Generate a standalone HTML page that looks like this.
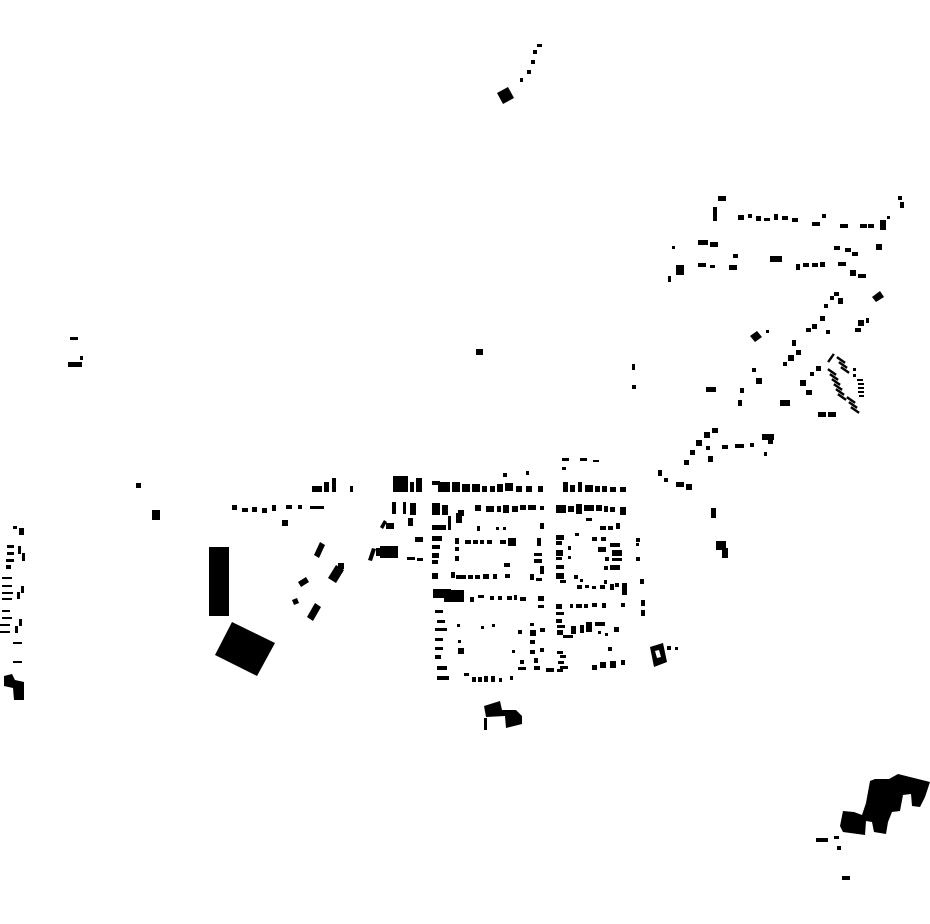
<!DOCTYPE html>
<html><head><meta charset="utf-8"><style>html,body{margin:0;padding:0;background:#fff}svg{display:block}</style></head><body>
<svg width="930" height="924" viewBox="0 0 930 924" xmlns="http://www.w3.org/2000/svg" fill="#000">
<!-- north -->
<polygon points="497,93 508,87 514,98 503,104"/>
<rect x="520" y="78" width="3" height="4"/><rect x="527" y="70" width="4" height="4"/><rect x="531" y="60" width="4" height="4"/><rect x="533" y="50" width="4" height="4"/><rect x="537" y="44" width="5" height="3"/>
<!-- west -->
<rect x="70" y="337" width="8" height="3"/><rect x="68" y="362" width="14" height="5"/><rect x="80" y="356" width="3" height="4"/>
<rect x="476" y="349" width="7" height="6"/><rect x="632" y="364" width="3" height="6"/><rect x="632" y="385" width="4" height="4"/>
<rect x="136" y="483" width="5" height="5"/><rect x="152" y="510" width="8" height="10"/>
<rect x="209" y="547" width="20" height="69"/>
<polygon points="215,655 232,622 275,643 257,676"/>
<!-- far left column -->
<rect x="13" y="526" width="4" height="3"/><rect x="19" y="528" width="5" height="7"/>
<rect x="7" y="545" width="7" height="3"/><rect x="7" y="552" width="7" height="3"/><rect x="6" y="559" width="8" height="3"/><rect x="6" y="565" width="5" height="4"/>
<rect x="18" y="546" width="3" height="8"/><rect x="22" y="553" width="3" height="8"/>
<rect x="2" y="577" width="10" height="2"/><rect x="2" y="585" width="10" height="2"/><rect x="2" y="592" width="11" height="2"/><rect x="2" y="598" width="10" height="2"/>
<rect x="17" y="592" width="3" height="7"/><rect x="21" y="586" width="3" height="7"/>
<rect x="2" y="610" width="8" height="2"/><rect x="2" y="617" width="10" height="2"/><rect x="0" y="624" width="10" height="2"/><rect x="0" y="631" width="10" height="2"/>
<rect x="15" y="626" width="3" height="7"/><rect x="19" y="619" width="3" height="7"/>
<rect x="13" y="642" width="9" height="2"/><rect x="13" y="661" width="9" height="2"/>
<polygon points="4,676 12,674 15,680 24,682 24,700 14,700 13,688 4,686"/>
<!-- west row near town -->
<rect x="232" y="505" width="5" height="5"/><rect x="242" y="508" width="6" height="4"/><rect x="252" y="507" width="5" height="5"/><rect x="262" y="508" width="5" height="5"/><rect x="272" y="505" width="4" height="6"/><rect x="282" y="520" width="6" height="6"/><rect x="286" y="505" width="6" height="4"/><rect x="298" y="505" width="4" height="4"/><rect x="310" y="506" width="14" height="3"/>
<rect x="312" y="486" width="10" height="6"/><rect x="324" y="482" width="5" height="10"/><rect x="332" y="478" width="4" height="14"/><rect x="350" y="486" width="3" height="6"/>
<polygon points="314,555 320,542 325,545 319,558"/><polygon points="328,578 336,565 344,570 336,583"/><rect x="338" y="563" width="6" height="6"/><polygon points="298,582 306,577 309,582 301,587"/><polygon points="292,600 297,598 299,603 294,605"/><polygon points="307,617 315,603 321,607 313,621"/>
<!-- town -->
<rect x="393" y="476" width="15" height="16"/><rect x="410" y="482" width="4" height="10"/><rect x="416" y="478" width="6" height="14"/>
<rect x="432" y="481" width="8" height="4"/><rect x="438" y="482" width="12" height="10"/><rect x="452" y="482" width="8" height="10"/><rect x="462" y="484" width="8" height="8"/><rect x="472" y="484" width="8" height="8"/><rect x="482" y="486" width="5" height="6"/><rect x="490" y="486" width="5" height="6"/><rect x="497" y="484" width="6" height="8"/><rect x="505" y="483" width="8" height="8"/><rect x="516" y="486" width="6" height="6"/><rect x="526" y="486" width="6" height="6"/><rect x="538" y="486" width="5" height="6"/><rect x="503" y="473" width="4" height="4"/><rect x="526" y="471" width="3" height="4"/>
<rect x="562" y="458" width="7" height="3"/><rect x="580" y="458" width="7" height="3"/><rect x="593" y="460" width="6" height="2"/><rect x="562" y="467" width="4" height="3"/>
<rect x="563" y="482" width="5" height="10"/><rect x="570" y="485" width="5" height="7"/><rect x="578" y="482" width="4" height="10"/><rect x="585" y="485" width="8" height="7"/><rect x="595" y="486" width="5" height="6"/><rect x="602" y="486" width="5" height="6"/><rect x="610" y="487" width="6" height="5"/><rect x="620" y="487" width="6" height="5"/>
<rect x="392" y="502" width="4" height="12"/><rect x="403" y="502" width="3" height="12"/><rect x="410" y="503" width="6" height="12"/><rect x="432" y="503" width="8" height="12"/><rect x="442" y="505" width="6" height="10"/><rect x="458" y="510" width="6" height="6"/>
<rect x="475" y="505" width="6" height="6"/><rect x="486" y="506" width="8" height="6"/><rect x="497" y="506" width="4" height="6"/><rect x="503" y="505" width="6" height="8"/><rect x="512" y="506" width="6" height="6"/><rect x="520" y="505" width="6" height="5"/><rect x="528" y="505" width="8" height="5"/><rect x="540" y="506" width="4" height="4"/>
<rect x="556" y="505" width="10" height="8"/><rect x="568" y="506" width="6" height="6"/><rect x="576" y="504" width="6" height="10"/><rect x="584" y="505" width="10" height="6"/><rect x="596" y="505" width="6" height="6"/><rect x="604" y="506" width="4" height="6"/><rect x="610" y="507" width="5" height="5"/><rect x="620" y="507" width="6" height="8"/>
<polygon points="380,527 384,520 387,522 383,529"/><rect x="386" y="523" width="8" height="6"/><rect x="408" y="518" width="5" height="8"/><rect x="432" y="525" width="14" height="5"/><rect x="448" y="516" width="3" height="14"/><rect x="456" y="513" width="6" height="10"/><rect x="477" y="526" width="3" height="5"/><rect x="496" y="527" width="3" height="3"/><rect x="503" y="527" width="3" height="3"/><rect x="540" y="523" width="4" height="6"/><rect x="586" y="518" width="6" height="3"/><rect x="600" y="526" width="6" height="4"/><rect x="608" y="526" width="5" height="4"/><rect x="616" y="523" width="4" height="6"/>
<polygon points="368,560 372,548 376,549 372,561"/><rect x="380" y="546" width="18" height="12"/><rect x="376" y="548" width="6" height="8"/><rect x="407" y="557" width="8" height="3"/><rect x="417" y="558" width="6" height="3"/>
<rect x="415" y="537" width="8" height="5"/><rect x="432" y="536" width="10" height="5"/><rect x="432" y="545" width="8" height="4"/><rect x="432" y="553" width="7" height="5"/><rect x="432" y="560" width="6" height="4"/><rect x="432" y="573" width="6" height="6"/><rect x="455" y="538" width="4" height="6"/><rect x="455" y="547" width="4" height="4"/><rect x="455" y="556" width="4" height="5"/>
<rect x="465" y="540" width="6" height="4"/><rect x="473" y="540" width="5" height="4"/><rect x="480" y="540" width="4" height="4"/><rect x="487" y="540" width="5" height="4"/><rect x="500" y="540" width="6" height="4"/><rect x="508" y="538" width="8" height="8"/><rect x="537" y="538" width="4" height="8"/><rect x="534" y="553" width="8" height="3"/><rect x="534" y="559" width="8" height="4"/><rect x="504" y="563" width="6" height="4"/><rect x="540" y="566" width="4" height="8"/>
<rect x="451" y="572" width="4" height="6"/><rect x="456" y="575" width="10" height="4"/><rect x="468" y="575" width="5" height="4"/><rect x="475" y="575" width="5" height="4"/><rect x="483" y="574" width="6" height="5"/><rect x="493" y="574" width="4" height="5"/><rect x="505" y="574" width="5" height="4"/><rect x="530" y="574" width="4" height="6"/><rect x="536" y="578" width="6" height="3"/>
<rect x="556" y="535" width="8" height="5"/><rect x="556" y="541" width="6" height="4"/><rect x="556" y="550" width="7" height="6"/><rect x="556" y="557" width="6" height="3"/><rect x="556" y="565" width="8" height="4"/><rect x="556" y="573" width="8" height="6"/><rect x="560" y="580" width="6" height="3"/><rect x="568" y="546" width="3" height="4"/><rect x="568" y="556" width="3" height="3"/>
<rect x="575" y="533" width="4" height="3"/><rect x="592" y="537" width="5" height="4"/><rect x="601" y="537" width="5" height="4"/><rect x="598" y="547" width="8" height="5"/><rect x="610" y="543" width="10" height="4"/><rect x="612" y="550" width="10" height="6"/><rect x="605" y="557" width="4" height="4"/><rect x="612" y="558" width="10" height="3"/><rect x="604" y="566" width="4" height="4"/><rect x="610" y="565" width="10" height="5"/><rect x="636" y="538" width="4" height="4"/><rect x="636" y="543" width="3" height="3"/><rect x="636" y="557" width="4" height="4"/><rect x="640" y="579" width="4" height="5"/>
<rect x="574" y="575" width="4" height="4"/><rect x="580" y="579" width="3" height="3"/><rect x="577" y="585" width="5" height="4"/><rect x="585" y="585" width="4" height="3"/><rect x="592" y="586" width="4" height="3"/><rect x="600" y="585" width="5" height="4"/><rect x="610" y="584" width="4" height="6"/><rect x="615" y="583" width="4" height="4"/><rect x="622" y="583" width="5" height="12"/><rect x="604" y="580" width="3" height="4"/>
<rect x="433" y="589" width="18" height="9"/><rect x="444" y="590" width="20" height="12"/><rect x="470" y="597" width="4" height="5"/><rect x="478" y="595" width="6" height="3"/><rect x="490" y="596" width="4" height="4"/><rect x="498" y="596" width="4" height="4"/><rect x="507" y="596" width="5" height="4"/><rect x="514" y="595" width="3" height="5"/><rect x="520" y="597" width="6" height="4"/><rect x="538" y="596" width="6" height="5"/><rect x="538" y="605" width="6" height="3"/>
<rect x="556" y="604" width="6" height="5"/><rect x="556" y="612" width="8" height="3"/><rect x="556" y="619" width="6" height="4"/><rect x="570" y="604" width="3" height="4"/><rect x="576" y="604" width="6" height="4"/><rect x="584" y="604" width="4" height="4"/><rect x="592" y="603" width="5" height="4"/><rect x="602" y="603" width="4" height="5"/><rect x="621" y="603" width="4" height="4"/><rect x="641" y="600" width="4" height="6"/><rect x="641" y="610" width="4" height="6"/>
<rect x="435" y="610" width="8" height="3"/><rect x="437" y="620" width="8" height="3"/><rect x="435" y="628" width="12" height="3"/><rect x="435" y="638" width="8" height="3"/><rect x="435" y="647" width="8" height="3"/><rect x="435" y="655" width="6" height="4"/><rect x="437" y="666" width="10" height="4"/><rect x="457" y="624" width="3" height="3"/><rect x="458" y="640" width="3" height="3"/><rect x="458" y="648" width="6" height="6"/><rect x="481" y="626" width="3" height="3"/><rect x="492" y="624" width="3" height="3"/>
<rect x="530" y="623" width="4" height="3"/><rect x="530" y="630" width="6" height="6"/><rect x="530" y="640" width="5" height="4"/><rect x="530" y="650" width="5" height="4"/><rect x="518" y="630" width="4" height="4"/><rect x="512" y="650" width="3" height="3"/><rect x="540" y="628" width="5" height="4"/><rect x="540" y="648" width="4" height="4"/>
<rect x="557" y="625" width="8" height="3"/><rect x="557" y="630" width="6" height="5"/><rect x="563" y="635" width="10" height="3"/><rect x="571" y="626" width="5" height="8"/><rect x="580" y="625" width="4" height="8"/><rect x="586" y="622" width="6" height="10"/><rect x="595" y="622" width="10" height="4"/><rect x="598" y="631" width="3" height="3"/><rect x="605" y="633" width="3" height="3"/><rect x="614" y="627" width="5" height="5"/>
<rect x="557" y="651" width="6" height="3"/><rect x="560" y="655" width="6" height="3"/><rect x="558" y="661" width="6" height="3"/><rect x="557" y="669" width="6" height="3"/><rect x="534" y="658" width="4" height="5"/><rect x="534" y="666" width="6" height="4"/><rect x="520" y="660" width="4" height="4"/><rect x="518" y="667" width="8" height="3"/><rect x="546" y="668" width="8" height="4"/><rect x="560" y="666" width="8" height="3"/>
<rect x="464" y="673" width="5" height="3"/><rect x="472" y="677" width="4" height="5"/><rect x="478" y="677" width="4" height="5"/><rect x="484" y="676" width="4" height="6"/><rect x="491" y="676" width="4" height="6"/><rect x="499" y="678" width="3" height="4"/><rect x="510" y="676" width="3" height="4"/><rect x="437" y="676" width="12" height="4"/>
<rect x="592" y="665" width="5" height="5"/><rect x="600" y="662" width="6" height="6"/><rect x="610" y="661" width="6" height="7"/><rect x="621" y="660" width="4" height="5"/><rect x="608" y="647" width="4" height="4"/>
<path d="M650,647 L663,643 L667,662 L654,667 Z M655,651 L657,658 L661,657 L659,650 Z" fill-rule="evenodd"/><rect x="667" y="646" width="4" height="4"/><rect x="675" y="647" width="3" height="3"/>
<polygon points="484,706 500,701 502,710 516,710 522,716 522,724 506,728 505,716 486,717"/><rect x="484" y="718" width="3" height="12"/>
<!-- NE arm -->
<rect x="718" y="196" width="8" height="5"/><rect x="713" y="207" width="4" height="14"/><rect x="738" y="215" width="6" height="5"/><rect x="748" y="214" width="4" height="4"/><rect x="756" y="216" width="5" height="5"/><rect x="764" y="218" width="6" height="3"/><rect x="774" y="214" width="4" height="6"/><rect x="782" y="216" width="6" height="4"/><rect x="792" y="218" width="6" height="4"/><rect x="812" y="222" width="8" height="4"/><rect x="822" y="214" width="4" height="4"/><rect x="840" y="224" width="8" height="4"/><rect x="860" y="224" width="7" height="4"/><rect x="868" y="224" width="6" height="4"/><rect x="880" y="220" width="6" height="10"/><rect x="887" y="216" width="3" height="3"/><rect x="898" y="196" width="4" height="4"/><rect x="900" y="202" width="4" height="6"/>
<rect x="672" y="246" width="3" height="3"/><rect x="668" y="276" width="3" height="6"/><rect x="676" y="265" width="8" height="10"/><rect x="698" y="240" width="10" height="5"/><rect x="710" y="242" width="8" height="5"/><rect x="698" y="263" width="8" height="4"/><rect x="710" y="265" width="5" height="3"/><rect x="729" y="265" width="8" height="5"/><rect x="733" y="254" width="5" height="4"/><rect x="770" y="256" width="12" height="6"/><rect x="796" y="264" width="4" height="6"/><rect x="803" y="263" width="6" height="4"/><rect x="812" y="263" width="6" height="4"/><rect x="820" y="262" width="5" height="5"/><rect x="834" y="246" width="6" height="4"/><rect x="845" y="248" width="6" height="4"/><rect x="852" y="252" width="6" height="4"/><rect x="838" y="262" width="8" height="4"/><rect x="850" y="270" width="6" height="6"/><rect x="858" y="274" width="8" height="4"/><rect x="876" y="244" width="6" height="6"/>
<polygon points="872,297 880,291 884,297 876,302"/><rect x="834" y="292" width="5" height="4"/><rect x="830" y="296" width="4" height="4"/><rect x="838" y="298" width="5" height="6"/><rect x="824" y="304" width="4" height="4"/><rect x="820" y="316" width="5" height="5"/><rect x="812" y="324" width="5" height="5"/><rect x="806" y="328" width="5" height="4"/><rect x="858" y="320" width="6" height="6"/><rect x="855" y="328" width="6" height="4"/><rect x="866" y="318" width="3" height="5"/><rect x="826" y="330" width="4" height="4"/><rect x="792" y="340" width="4" height="6"/><rect x="796" y="350" width="5" height="5"/><rect x="788" y="355" width="6" height="6"/><rect x="783" y="362" width="4" height="4"/>
<polygon points="750,336 757,331 762,337 755,342"/><rect x="766" y="330" width="3" height="3"/><rect x="752" y="368" width="4" height="4"/><rect x="756" y="378" width="6" height="6"/><rect x="740" y="388" width="4" height="5"/><rect x="738" y="400" width="4" height="6"/><rect x="706" y="387" width="10" height="5"/>
<!-- striped group -->
<g>
<rect x="-5" y="-1.2" width="10" height="2.4" transform="translate(831,358) rotate(-55)"/>
<rect x="-5" y="-1.2" width="10" height="2.4" transform="translate(841,360) rotate(35)"/>
<rect x="-5" y="-1.2" width="10" height="2.4" transform="translate(843,365) rotate(35)"/>
<rect x="-5" y="-1.2" width="10" height="2.4" transform="translate(845,370) rotate(35)"/>
<rect x="-5" y="-1.2" width="10" height="2.4" transform="translate(832,372) rotate(35)"/>
<rect x="-5" y="-1.2" width="10" height="2.4" transform="translate(834,377) rotate(35)"/>
<rect x="-5" y="-1.2" width="10" height="2.4" transform="translate(836,382) rotate(35)"/>
<rect x="-5" y="-1.2" width="10" height="2.4" transform="translate(838,387) rotate(35)"/>
<rect x="-5" y="-1.2" width="10" height="2.4" transform="translate(840,392) rotate(35)"/>
<rect x="-5" y="-1.2" width="10" height="2.4" transform="translate(842,397) rotate(35)"/>
<rect x="-5" y="-1.2" width="10" height="2.4" transform="translate(851,400) rotate(35)"/>
<rect x="-5" y="-1.2" width="10" height="2.4" transform="translate(853,405) rotate(35)"/>
<rect x="-5" y="-1.2" width="10" height="2.4" transform="translate(855,410) rotate(35)"/>
<rect x="857" y="379" width="6" height="2"/><rect x="858" y="383" width="6" height="2"/><rect x="858" y="387" width="6" height="2"/><rect x="858" y="391" width="6" height="2"/><rect x="859" y="395" width="5" height="2"/>
<rect x="853" y="368" width="3" height="3"/><rect x="853" y="374" width="3" height="3"/>
</g>
<rect x="816" y="366" width="5" height="5"/><rect x="810" y="372" width="4" height="4"/><rect x="800" y="380" width="6" height="6"/><rect x="806" y="390" width="6" height="5"/><rect x="780" y="400" width="10" height="6"/><rect x="818" y="412" width="8" height="5"/><rect x="828" y="412" width="8" height="5"/>
<rect x="712" y="428" width="6" height="5"/><rect x="704" y="432" width="6" height="6"/><rect x="696" y="440" width="6" height="6"/><rect x="690" y="450" width="5" height="5"/><rect x="684" y="460" width="5" height="5"/><rect x="706" y="446" width="4" height="4"/><rect x="708" y="456" width="5" height="6"/><rect x="722" y="445" width="6" height="4"/><rect x="735" y="444" width="5" height="4"/><rect x="740" y="444" width="4" height="4"/><rect x="750" y="443" width="4" height="4"/><rect x="762" y="434" width="12" height="6"/><rect x="768" y="440" width="5" height="4"/><rect x="764" y="452" width="3" height="4"/>
<rect x="658" y="470" width="4" height="6"/><rect x="664" y="478" width="4" height="4"/><rect x="676" y="482" width="8" height="5"/><rect x="686" y="484" width="6" height="6"/><rect x="711" y="508" width="5" height="10"/><rect x="716" y="541" width="10" height="9"/><rect x="722" y="548" width="6" height="10"/>
<!-- SE cluster -->
<polygon points="843,811 854,812 862,815 866,803 870,781 875,779 889,779 898,774 930,782 925,797 920,807 912,806 911,794 903,795 900,811 892,812 888,822 886,834 874,832 872,822 866,821 865,835 843,832 840,826"/>
<rect x="816" y="838" width="12" height="4"/><rect x="837" y="846" width="4" height="4"/><rect x="834" y="836" width="5" height="3"/><rect x="842" y="876" width="8" height="4"/>
</svg>
</body></html>
